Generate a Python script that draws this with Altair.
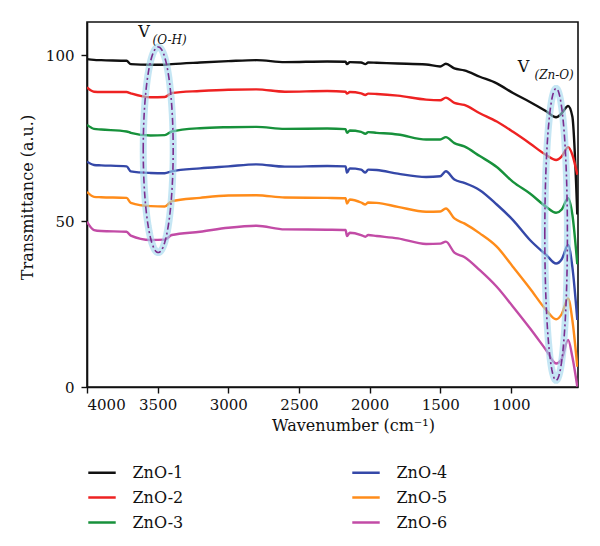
import altair as alt
import pandas as pd
import numpy as np

FONT = "DejaVu Serif"

wavenumber = [4000, 3950, 3900, 3720, 3690, 3550, 3450, 3400, 3200, 3000,
              2800, 2600, 2300, 2170, 2160, 2140, 2060, 2030, 2010, 1950,
              1800, 1600, 1500, 1460, 1400, 1330, 1220, 1100, 985, 865,
              750, 680, 640, 595, 565, 530]

zno1 = [98.8, 98.6, 98.5, 98.3, 97.3, 97.1, 97.1, 97.3, 97.8, 98.2,
        98.5, 97.9, 98.1, 98.0, 97.3, 97.9, 97.8, 97.3, 97.8, 97.7,
        97.5, 97.2, 96.6, 97.4, 96.0, 95.4, 93.5, 91.5, 88.6, 85.9,
        83.1, 81.3, 82.5, 84.7, 81.5, 52.0]
zno2 = [90.3, 89.0, 88.9, 88.9, 88.5, 87.3, 87.4, 88.6, 89.2, 89.6,
        89.7, 89.0, 89.2, 89.0, 88.4, 88.9, 88.5, 88.0, 88.4, 88.3,
        87.8, 86.6, 86.4, 87.2, 85.6, 85.0, 82.5, 80.0, 76.9, 73.4,
        69.9, 68.4, 69.5, 72.3, 70.0, 64.0]
zno3 = [79.0, 77.8, 77.6, 77.0, 76.6, 75.8, 75.9, 77.0, 78.0, 78.3,
        78.4, 77.8, 77.9, 77.7, 76.6, 77.3, 76.9, 76.3, 76.8, 76.6,
        76.1, 74.6, 74.6, 75.3, 73.5, 72.5, 69.6, 66.3, 61.8, 58.3,
        54.3, 52.5, 53.5, 56.9, 52.0, 37.0]
zno4 = [67.9, 66.9, 66.8, 66.5, 65.0, 64.5, 64.4, 65.0, 65.9, 66.5,
        67.1, 66.4, 66.6, 66.5, 64.6, 65.9, 65.5, 64.6, 65.5, 65.4,
        64.3, 63.3, 63.5, 65.0, 62.5, 61.5, 59.3, 55.0, 50.3, 44.3,
        39.8, 37.2, 38.5, 42.8, 36.2, 20.2]
zno5 = [58.8, 57.3, 57.2, 57.0, 55.5, 54.5, 54.4, 56.0, 57.0, 57.7,
        57.8, 57.1, 57.0, 56.9, 55.3, 56.5, 55.6, 55.0, 55.6, 55.5,
        54.3, 52.8, 52.9, 53.8, 50.8, 49.3, 46.3, 42.3, 36.2, 29.7,
        23.2, 20.4, 22.0, 26.7, 20.2, 6.1]
zno6 = [49.8, 47.3, 47.0, 46.8, 45.6, 44.3, 44.4, 45.8, 46.8, 48.0,
        48.6, 47.5, 47.4, 47.3, 45.5, 46.5, 45.8, 45.3, 45.8, 45.5,
        44.8, 43.1, 43.2, 43.8, 40.5, 39.2, 35.2, 30.2, 24.2, 17.7,
        11.1, 7.1, 8.5, 14.2, 9.1, 0.1]

series_names = ["ZnO-1", "ZnO-2", "ZnO-3", "ZnO-4", "ZnO-5", "ZnO-6"]
series_values = [zno1, zno2, zno3, zno4, zno5, zno6]
series_colors = ["#111111", "#ee2222", "#17913b", "#3548a8", "#ff8c1a", "#c24ba6"]

rows = []
for name, vals in zip(series_names, series_values):
    for w, v in zip(wavenumber, vals):
        rows.append({"wn": w, "T": v, "sample": name})
df = pd.DataFrame(rows)

ellipse_names = ["OH", "ZnO"]
ellipse_cx = [3496, 680]
ellipse_cy = [71.5, 46.0]
ellipse_rx = [106, 80]
ellipse_ry = [31.0, 44.0]
erows = []
for n, cx, cy, rx, ry in zip(ellipse_names, ellipse_cx, ellipse_cy, ellipse_rx, ellipse_ry):
    for i, t in enumerate(np.linspace(0, 2 * np.pi, 91)):
        erows.append({"g": n, "i": i, "wn": cx + rx * np.cos(t), "T": cy + ry * np.sin(t)})
edf = pd.DataFrame(erows)

v_text = ["V", "V"]
v_wn = [3597, 911]
v_T = [107.0, 96.5]
sub_text = ["(O-H)", "(Zn-O)"]
sub_wn = [3415, 694]
sub_T = [104.6, 94.0]
vdf = pd.DataFrame({"wn": v_wn, "T": v_T, "t": v_text})
sdf = pd.DataFrame({"wn": sub_wn, "T": sub_T, "t": sub_text})

xscale = alt.Scale(domain=[4000, 525], nice=False, zero=False)
yscale = alt.Scale(domain=[0, 110], nice=False)

x_enc = alt.X("wn:Q", scale=xscale,
              axis=alt.Axis(title="Wavenumber (cm⁻¹)", values=[4000, 3500, 3000, 2500, 2000, 1500, 1000],
                            format="d", titleX=266, titlePadding=5, labelPadding=4))
y_enc = alt.Y("T:Q", scale=yscale,
              axis=alt.Axis(title="Transmittance (a.u.)", values=[0, 50, 100],
                            titleY=175, titlePadding=10, labelPadding=7))

lines = alt.Chart(df).mark_line(strokeWidth=2.4, interpolate="monotone", clip=True).encode(
    x=x_enc, y=y_enc,
    color=alt.Color("sample:N",
                    scale=alt.Scale(domain=series_names, range=series_colors),
                    legend=alt.Legend(title=None, orient="none", legendX=1.5, legendY=437,
                                      columns=2, columnPadding=163, rowPadding=3,
                                      symbolType="M-1.12,0L1.12,0", symbolSize=600,
                                      symbolStrokeWidth=2.5, labelFont=FONT,
                                      labelFontSize=16, labelOffset=17, labelColor="#111")),
    detail="sample:N",
)

halo = alt.Chart(edf).mark_line(strokeWidth=7, color="#9fd6ec", opacity=0.6).encode(
    x=alt.X("wn:Q", scale=xscale), y=alt.Y("T:Q", scale=yscale),
    detail="g:N", order="i:Q")
dashed = alt.Chart(edf).mark_line(strokeWidth=1.6, color="#7a2d8e",
                                  strokeDash=[7, 3, 2, 3]).encode(
    x=alt.X("wn:Q", scale=xscale), y=alt.Y("T:Q", scale=yscale),
    detail="g:N", order="i:Q")

vtext = alt.Chart(vdf).mark_text(font=FONT, fontSize=16, color="#111",
                                 align="center", baseline="middle").encode(
    x=alt.X("wn:Q", scale=xscale), y=alt.Y("T:Q", scale=yscale), text="t:N")
stext = alt.Chart(sdf).mark_text(font=FONT, fontSize=12, fontStyle="italic", color="#111",
                                 align="center", baseline="middle").encode(
    x=alt.X("wn:Q", scale=xscale), y=alt.Y("T:Q", scale=yscale), text="t:N")

chart = alt.layer(lines, halo, dashed, vtext, stext).properties(
    width=491, height=365,
    autosize=alt.AutoSizeParams(type="none"),
    padding={"left": 87, "top": 22, "right": 22, "bottom": 159},
).configure_view(
    stroke="#111", strokeWidth=1.6
).configure_axis(
    grid=False, domainColor="#111", domainWidth=1.6, tickColor="#111", tickWidth=1.4,
    tickSize=6, labelFont=FONT, labelFontSize=15, labelColor="#111",
    titleFont=FONT, titleFontSize=16, titleFontWeight="normal", titleColor="#111",
)

chart.save("out.html", embed_options={"renderer": "svg", "actions": False})
